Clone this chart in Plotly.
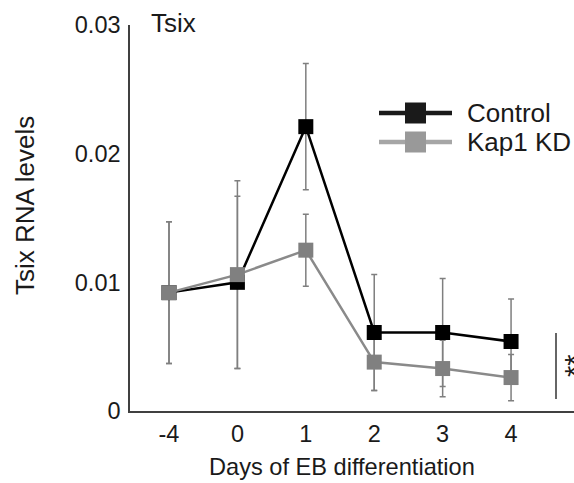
import plotly.graph_objects as go

# ---- data ----
days = ["-4", "0", "1", "2", "3", "4"]
control = [0.0092, 0.0100, 0.0221, 0.0061, 0.0061, 0.0054]
control_err = [0.0055, 0.0067, 0.0049, 0.0045, 0.0042, 0.0033]
kap1_kd = [0.0092, 0.0106, 0.0125, 0.0038, 0.0033, 0.0026]
kap1_kd_err = [0.0055, 0.0073, 0.0028, 0.0022, 0.0022, 0.0018]
y_tick_vals = [0, 0.01, 0.02, 0.03]
y_tick_labels = ["0", "0.01", "0.02", "0.03"]

W, H = 574, 483
L, R, T, B = 130, 0, 25, 72
PW, PH = W - L - R, H - T - B
FONT = "Liberation Sans, Arial, sans-serif"
TXT = "#1a1a1a"


def pxx(x):
    return (x - L) / PW


def pxy(y):
    return (H - B - y) / PH


xpos = list(range(len(days)))
ERR_COLOR = "#7f7f7f"

fig = go.Figure()
# error bars first (beneath all markers)
for vals, errs in ((control, control_err), (kap1_kd, kap1_kd_err)):
    fig.add_trace(go.Scatter(
        x=xpos, y=vals, mode="markers",
        marker=dict(size=2, color="rgba(0,0,0,0)"),
        error_y=dict(type="data", array=errs, visible=True,
                     color=ERR_COLOR, thickness=1.5, width=3),
        showlegend=False, hoverinfo="skip"))

fig.add_trace(go.Scatter(
    x=xpos, y=control, mode="lines+markers", name="Control",
    line=dict(color="#000000", width=2.5),
    marker=dict(symbol="square", size=15, color="#000000", line=dict(width=0)),
    showlegend=False))
fig.add_trace(go.Scatter(
    x=xpos, y=kap1_kd, mode="lines+markers", name="Kap1 KD",
    line=dict(color="#8a8a8a", width=2.5),
    marker=dict(symbol="square", size=15, color="#808080", line=dict(width=0)),
    showlegend=False))

shapes = []
annotations = []

# legend (drawn manually)
for name, yc, lc, mc in (("Control", 113, "#1a1a1a", "#1a1a1a"),
                         ("Kap1 KD", 142, "#a6a6a6", "#999999")):
    shapes.append(dict(type="line", xref="paper", yref="paper",
                       x0=pxx(379), x1=pxx(452), y0=pxy(yc), y1=pxy(yc),
                       line=dict(color=lc, width=4.5)))
    shapes.append(dict(type="rect", xref="paper", yref="paper",
                       x0=pxx(405), x1=pxx(426), y0=pxy(yc - 10.5), y1=pxy(yc + 10.5),
                       fillcolor=mc, line=dict(width=0)))
    annotations.append(dict(text=name, xref="paper", yref="paper",
                            x=pxx(465), y=pxy(yc), xanchor="left", yanchor="middle",
                            showarrow=False, font=dict(size=26, color=TXT, family=FONT)))

# significance bar with rotated "**"
shapes.append(dict(type="line", xref="paper", yref="paper",
                   x0=pxx(556), x1=pxx(556), y0=pxy(333), y1=pxy(399),
                   line=dict(color="#333333", width=1.5)))
annotations.append(dict(text="**", xref="paper", yref="paper",
                        x=pxx(557), y=pxy(366), xanchor="left", yanchor="middle",
                        textangle=-90, showarrow=False,
                        font=dict(size=29, color=TXT, family=FONT)))

# titles
annotations.append(dict(text="Tsix", xref="paper", yref="paper",
                        x=pxx(149), y=pxy(23), xanchor="left", yanchor="middle",
                        showarrow=False, font=dict(size=26, color=TXT, family=FONT)))
annotations.append(dict(text="Tsix RNA levels", xref="paper", yref="paper",
                        x=pxx(25), y=pxy(206), xanchor="center", yanchor="middle",
                        textangle=-90, showarrow=False,
                        font=dict(size=26, color=TXT, family=FONT)))
annotations.append(dict(text="Days of EB differentiation", xref="paper", yref="paper",
                        x=pxx(342), y=pxy(467), xanchor="center", yanchor="middle",
                        showarrow=False, font=dict(size=23.6, color=TXT, family=FONT)))

fig.update_layout(
    width=W, height=H,
    margin=dict(l=L, r=R, t=T, b=B, autoexpand=False),
    paper_bgcolor="white", plot_bgcolor="white",
    font=dict(family=FONT, color=TXT),
    showlegend=False,
    shapes=shapes, annotations=annotations,
    xaxis=dict(range=[-0.57, 5.92], tickmode="array", tickvals=xpos, ticktext=days,
               showline=True, linecolor="#404040", linewidth=1.5, ticks="",
               showgrid=False, zeroline=False, fixedrange=True,
               tickfont=dict(size=23.5, color=TXT, family=FONT), ticklabelstandoff=1),
    yaxis=dict(range=[0, 0.03], tickmode="array", tickvals=y_tick_vals,
               ticktext=y_tick_labels,
               showline=True, linecolor="#404040", linewidth=1.5, ticks="",
               showgrid=False, zeroline=False, fixedrange=True,
               tickfont=dict(size=23.5, color=TXT, family=FONT), ticklabelstandoff=3),
)

fig.write_html("out.html", config=dict(displayModeBar=False),
               post_script="document.body.style.margin='0';"
                           "document.body.style.overflow='hidden';")
